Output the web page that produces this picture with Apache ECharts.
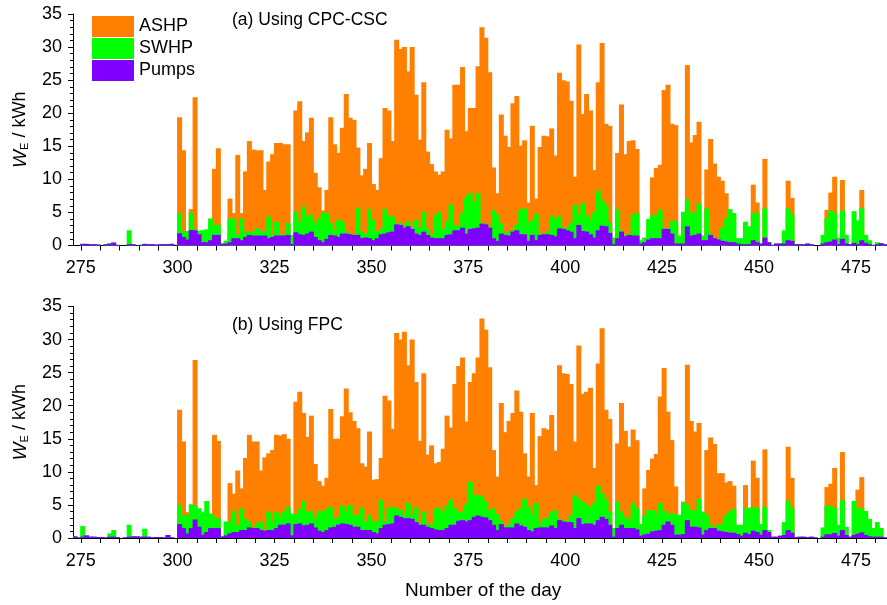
<!DOCTYPE html>
<html><head><meta charset="utf-8">
<script src="https://cdn.jsdelivr.net/npm/echarts@6/dist/echarts.min.js"></script>
<style>html,body{margin:0;padding:0;background:#fff}#c{width:887px;height:605px}</style>
</head><body><div id="c"></div>
<script>
// Day categories (one bar per day)
const firstDay = 273, lastDay = 482;
const days = [];
for (let d = firstDay; d <= lastDay; d++) days.push(String(d));
const tickStep = 5, labelStep = 25;
const seriesNames = ['ASHP', 'SWHP', 'Pumps'];

// Panel (a) Using CPC-CSC : bar top heights (kWh), days 273..482, 10 per row
const ashpA = [
0,0,0,0,0,0,0,0,0,0,
0,0,0,0,0,0,0,0,0,0,
0,0,0,0,0,0,0,19.4,14.4,0,
5.5,22.4,0,0,0,0,11.6,14.7,0,0,
7.1,4.9,13.7,4.9,11.2,15.8,14.5,14.4,14.4,8.4,
12.7,13.8,15.5,15.5,15.3,15.3,0,20.4,21.8,15.8,
17.1,19.3,11.0,8.8,5.3,8.4,19.4,15.3,14.0,17.8,
22.9,19.3,19.0,14.8,10.6,11.6,15.5,9.3,8.4,13.2,
20.8,20.4,15.8,31.1,29.7,30.0,26.3,30.0,22.8,16.0,
24.7,14.2,12.3,11.2,10.7,11.2,17.5,16.2,24.3,24.3,
27.0,17.3,20.8,20.8,27.1,33.0,31.4,26.2,11.8,7.9,
19.8,16.6,14.9,21.5,22.6,15.1,15.9,6.5,18.1,7.1,
14.9,16.6,16.5,17.7,13.6,26.1,25.0,24.8,21.9,10.4,
30.4,19.9,22.9,20.4,11.4,24.7,30.6,18.4,18.1,0,
14.0,21.3,13.8,15.8,15.9,14.6,0,0,0,10.3,
11.7,12.2,23.5,24.3,18.4,18.2,0,0,27.3,15.6,
16.7,18.7,0,11.5,16.1,12.4,10.4,9.8,7.9,0,
0,0,0,0,0,9.2,6.5,0,13.1,0,
0,0,0,0,9.8,7.2,0,0,0,0,
0,0,0,0,5.4,8.0,10.4,0,9.9,0,
0,0,0,8.4,0,0,0,0,0,0
];
const swhpA = [
0,0,0.25,0.25,0.2,0.2,0.15,0,0.2,0.3,
0.45,0.1,0,0,2.3,0.2,0,0.1,0.25,0.2,
0.2,0.15,0.2,0.2,0.2,0.25,0,4.9,2.1,2.2,
5.0,2.5,2.2,2.3,2.45,4.1,3.1,3.1,0.4,0.7,
4.0,4.1,1.6,4.1,2.1,2.1,2.1,2.6,2.2,2.1,
4.4,1.6,3.6,1.7,1.7,3.4,1.6,5.1,3.6,5.9,
4.6,4.6,3.4,4.1,5.0,4.9,3.4,2.3,3.9,3.6,
2.1,1.8,1.7,5.7,2.1,1.8,5.5,3.9,2.1,2.5,
5.5,4.4,4.4,3.3,3.4,3.0,3.6,2.7,3.9,2.7,
5.1,2.6,1.6,4.6,5.1,2.5,3.7,6.2,3.1,2.9,
4.9,7.3,7.9,6.6,7.9,3.4,3.3,2.8,5.4,4.7,
3.4,1.9,2.1,2.3,3.2,5.4,5.6,3.6,3.7,4.8,
1.8,1.8,2.1,4.5,4.1,4.5,2.7,2.7,3.4,6.1,
4.7,6.4,4.6,3.9,5.0,8.3,6.9,6.1,3.5,1.2,
5.5,2.3,1.6,1.8,4.7,4.9,0.8,1.2,4.0,4.6,
4.6,5.4,2.6,2.6,3.7,3.7,1.5,5.1,7.0,5.0,
5.0,6.4,1.5,5.6,1.8,1.2,1.0,2.7,4.1,5.5,
4.9,1.1,1.1,3.6,2.9,4.9,4.9,0.3,5.6,0.5,
0.1,0.3,0.3,2.3,5.6,4.7,0.2,0.2,0.2,0.3,
0.2,0,0,1.6,4.1,5.3,4.9,1.2,5.3,1.6,
0.2,5.2,3.8,5.7,1.6,0.8,0.1,0.5,0.35,0.2
];
const pumpsA = [
0,0,0.25,0.25,0.2,0.2,0.15,0,0.2,0.3,
0.45,0.1,0,0,0.2,0.2,0,0.1,0.25,0.2,
0.2,0.15,0.2,0.2,0.2,0.25,0,1.85,1.3,0.9,
2.35,2.3,1.7,0.5,0.5,0.8,1.6,1.6,0.2,0.3,
0.5,1.1,1.1,0.8,1.3,1.6,1.5,1.5,1.5,1.5,
1.1,1.3,1.5,1.5,1.5,1.6,0.2,2.0,1.7,1.6,
1.8,2.1,1.3,0.8,0.5,1.0,1.6,1.5,1.3,1.8,
1.8,1.7,1.6,1.6,1.1,1.2,1.1,0.8,1.1,1.7,
1.8,2.0,2.1,3.2,3.1,2.7,2.9,2.5,1.8,1.6,
2.1,1.6,1.2,1.1,1.1,1.1,1.6,1.7,2.3,2.3,
2.7,1.8,2.5,2.6,2.7,3.3,3.2,2.7,1.1,0.7,
1.8,1.6,1.5,2.1,2.3,1.7,1.7,0.7,1.6,0.8,
1.6,1.7,1.7,1.6,1.4,2.6,2.5,2.3,2.1,1.1,
3.1,2.2,2.1,1.7,1.2,2.3,3.0,2.9,1.9,0.2,
1.1,2.1,1.4,1.6,1.5,1.5,0.3,0.5,0.9,1.1,
1.1,1.1,2.5,2.5,1.8,0.3,0.3,0.3,2.9,1.5,
1.6,1.8,0.8,0.8,1.6,1.1,0.9,0.7,0.6,0.5,
0.5,0.3,0.2,0.2,0.2,0.8,0.5,0.3,1.2,0.5,
0.1,0.3,0.3,0.3,0.8,0.7,0.2,0.2,0.2,0.3,
0.2,0,0,0.3,0.5,0.6,0.9,0.2,1.0,0.3,
0.2,0.4,0.2,0.8,0.4,0.2,0.1,0.2,0.35,0.2
];

// Panel (b) Using FPC
const ashpB = [
0,0,0,0,0,0,0,0,0,0,
0,0,0,0,0,0,0,0,0,0,
0,0,0,0,0,0,0,19.4,14.6,3.9,
0,26.9,0,0,0,0,15.6,14.7,0,0,
8.3,6.7,10.2,7.5,12.1,15.6,14.6,14.6,10.2,12.2,
12.8,13.3,15.6,15.5,15.7,15.0,0,20.6,22.1,18.9,
15.3,18.5,11.2,8.6,7.9,9.1,19.5,15.0,15.0,18.4,
22.6,19.0,17.7,16.6,11.3,10.8,16.1,8.8,8.9,12.1,
21.5,20.8,16.5,31.0,30.0,31.2,26.1,30.0,23.6,14.7,
24.9,12.6,14.0,11.3,11.5,13.5,18.5,16.7,23.3,26.0,
27.3,17.6,23.6,24.9,27.3,33.2,31.5,25.8,13.3,9.3,
20.4,16.0,17.7,18.9,22.3,19.1,12.8,9.3,18.9,8.0,
15.4,16.6,16.4,18.6,13.2,26.1,24.9,24.8,23.3,14.6,
29.1,21.8,22.1,22.7,10.6,26.4,31.7,19.4,18.0,0,
14.3,20.4,16.2,13.8,16.4,14.8,0,7.5,10.3,12.0,
12.7,21.4,25.7,19.1,14.8,7.8,0,0,26.2,17.7,
16.1,17.4,0,13.3,15.2,14.2,9.8,9.8,8.4,8.6,
7.9,0,0,8.0,0,11.7,9.1,0,13.4,0,
0,0,0,0,13.8,9.1,0,0,0,0,
0,0,0,0,7.7,8.2,10.6,0,13.0,0,
0,0,7.3,9.2,0,0,0,0,0,0
];
const swhpB = [
0.25,0.1,1.8,0.4,0.2,0.2,0.15,0.15,0.1,0.7,
1.2,0.15,0,0.1,2.0,0.25,0.25,0.2,1.4,0.2,
0.1,0.15,0.15,0.1,0.45,0.1,0,5.0,3.5,3.4,
5.1,4.9,4.5,3.9,5.6,3.7,3.1,3.0,0.3,2.5,
2.5,4.1,2.0,4.5,2.9,2.5,1.6,2.2,2.5,1.2,
4.0,2.5,3.9,3.2,4.0,4.7,3.7,3.6,4.4,5.6,
4.0,4.1,3.1,4.1,4.0,4.4,4.7,2.9,3.1,4.9,
4.0,5.0,3.4,3.5,4.6,2.5,3.5,2.6,2.5,5.8,
2.5,4.6,4.7,4.5,4.2,3.5,5.3,3.5,4.6,2.2,
4.0,2.2,2.0,4.5,4.6,4.0,4.9,5.8,4.5,3.9,
4.0,5.1,8.5,6.5,6.5,6.3,5.5,4.2,4.5,3.6,
2.6,1.8,2.1,3.0,4.0,4.5,5.9,4.7,3.5,5.3,
2.2,2.9,3.1,4.0,4.2,2.9,2.7,2.6,3.5,6.5,
5.9,5.4,5.0,4.6,5.3,7.9,6.8,5.9,4.0,1.5,
5.5,4.0,3.2,2.9,5.3,4.5,2.1,3.4,4.2,4.2,
3.7,5.3,4.1,3.7,3.7,3.6,3.5,5.5,5.1,4.2,
4.2,5.9,4.0,3.5,1.9,1.6,2.0,2.2,3.5,4.1,
4.4,2.0,2.0,4.5,4.6,4.7,4.5,2.1,4.7,1.2,
0.2,0.2,0.35,2.4,5.6,4.5,0.15,0.2,0.2,0.15,
0.2,0.1,0,1.6,4.9,4.9,4.5,2.0,5.7,1.7,
0.2,5.6,4.5,4.5,4.1,2.9,1.5,2.4,1.5,0.1
];
const pumpsB = [
0.25,0.1,0.2,0.4,0.2,0.2,0.15,0.15,0.1,0.2,
0.2,0.15,0,0.1,0.2,0.25,0.25,0.2,0.2,0.2,
0.1,0.15,0.15,0.1,0.45,0.1,0,2.1,1.5,0.7,
1.5,2.8,1.7,0.5,0.9,1.5,1.5,1.5,0.2,0.4,
0.7,0.9,0.9,1.2,1.2,1.6,1.5,1.5,1.2,1.1,
1.2,1.2,1.5,2.0,2.0,2.2,0.4,2.1,2.2,1.9,
2.0,2.2,1.6,1.1,0.9,1.2,1.6,1.7,2.0,2.2,
2.1,2.0,1.7,1.7,1.2,1.2,1.2,0.9,0.7,1.5,
2.0,2.1,2.2,3.4,3.2,3.0,3.0,2.9,2.4,2.0,
2.0,1.7,1.5,1.3,1.2,1.2,1.5,2.0,2.0,2.6,
2.7,2.5,2.7,3.2,3.4,3.2,3.1,2.7,2.0,1.2,
2.1,1.6,1.6,1.6,2.2,1.9,1.7,1.2,1.0,1.5,
1.6,1.6,1.6,1.9,1.5,2.7,2.5,2.4,2.4,1.5,
3.0,2.1,2.2,2.2,2.0,2.7,3.2,2.9,2.0,0.2,
1.5,2.0,1.5,1.5,1.5,1.3,0.35,0.55,0.65,1.0,
1.1,1.2,2.0,2.5,2.0,0.5,0.5,0.6,2.7,1.7,
1.7,1.6,0.5,1.2,1.5,1.5,1.1,1.0,0.9,0.8,
0.8,0.6,0.35,0.8,0.6,1.1,0.9,0.5,1.2,0.9,
0.2,0.2,0.35,0.45,1.2,0.8,0.15,0.2,0.2,0.15,
0.2,0.1,0,0.2,0.55,0.55,0.75,0.35,1.2,0.45,
0.2,0.45,0.65,0.85,0.45,0.25,0.2,0.2,0.2,0.1
];

const COLORS = {ASHP: '#FF8000', SWHP: '#00FF00', Pumps: '#8000FF'};
const FONT = '"Liberation Sans", Arial, sans-serif';

function makeX(gi) {
  return {
    type: 'category', gridIndex: gi, data: days, boundaryGap: true,
    axisLine: {show: true, lineStyle: {color: '#000', width: 1}},
    axisTick: {show: true, alignWithLabel: false, length: 5,
      interval: function (i, v) { return (+v) % tickStep === 0; },
      lineStyle: {color: '#000', width: 1}},
    axisLabel: {show: true, color: '#000', fontSize: 18, fontFamily: FONT, margin: 14,
      padding: [0, 4, 0, 0],
      interval: function (i, v) { return (+v) % labelStep === 0; }},
    splitLine: {show: false}
  };
}
function makeY(gi) {
  return {
    type: 'value', gridIndex: gi, min: 0, max: 35, interval: 5,
    axisLine: {show: true, lineStyle: {color: '#000', width: 1}},
    axisTick: {show: true, length: 5, lineStyle: {color: '#000', width: 1}},
    minorTick: {show: true, splitNumber: 5, length: 3, lineStyle: {color: '#000', width: 1}},
    axisLabel: {color: '#000', fontSize: 18, fontFamily: FONT, margin: 11},
    splitLine: {show: false},
    name: '{w|W}{e|E}{u| / kWh}', nameLocation: 'middle', nameGap: 43, nameRotate: 90,
    nameTextStyle: {color: '#000', fontFamily: FONT, fontSize: 18,
      rich: {
        w: {fontStyle: 'italic', fontSize: 19, fontFamily: FONT, color: '#000'},
        e: {fontSize: 11, fontFamily: FONT, color: '#000', verticalAlign: 'bottom', padding: [7, 0, 0, 0]},
        u: {fontSize: 18, fontFamily: FONT, color: '#000'}
      }}
  };
}
function makeSeries(gi, name, data) {
  return {
    name: name, type: 'bar', xAxisIndex: gi, yAxisIndex: gi, data: data,
    barGap: '-100%', barWidth: 5,
    itemStyle: {color: COLORS[name]}, silent: true, animation: false
  };
}

const chart = echarts.init(document.getElementById('c'), null, {renderer: 'canvas'});
chart.setOption({
  animation: false,
  backgroundColor: '#fff',
  grid: [
    {left: 73, right: 0, top: 14, height: 231.5},
    {left: 73, right: 0, top: 306.5, height: 231.5}
  ],
  xAxis: [makeX(0), makeX(1)],
  yAxis: [makeY(0), makeY(1)],
  legend: {
    data: seriesNames, orient: 'vertical', left: 92, top: 16, padding: 0,
    itemWidth: 42, itemHeight: 21, itemGap: 1, itemTextGap: 6, icon: 'rect', selectedMode: false,
    textStyle: {fontSize: 18, color: '#000', fontFamily: FONT}
  },
  graphic: [
    {type: 'text', left: 232, top: 11, style: {text: '(a) Using CPC-CSC', fontSize: 17.5, fontFamily: FONT, fill: '#000'}},
    {type: 'text', left: 232, top: 316, style: {text: '(b) Using FPC', fontSize: 17.5, fontFamily: FONT, fill: '#000'}},
    {type: 'text', left: 405, top: 581, style: {text: 'Number of the day', fontSize: 19, fontFamily: FONT, fill: '#000'}}
  ],
  series: [
    makeSeries(0, 'ASHP', ashpA), makeSeries(0, 'SWHP', swhpA), makeSeries(0, 'Pumps', pumpsA),
    makeSeries(1, 'ASHP', ashpB), makeSeries(1, 'SWHP', swhpB), makeSeries(1, 'Pumps', pumpsB)
  ]
});
</script></body></html>
